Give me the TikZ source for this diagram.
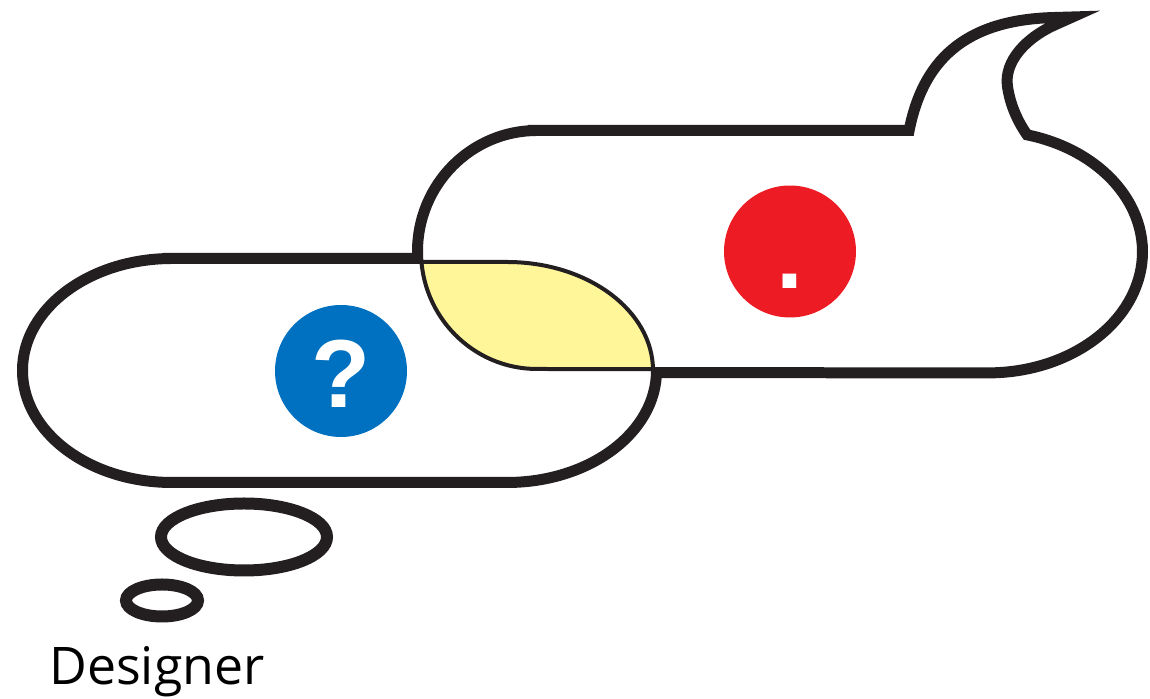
\documentclass[tikz,border=0pt]{standalone}
\usepackage{fontspec}
\setsansfont{Liberation Sans}
\newfontfamily\labelfont{Open Sans}

\definecolor{outline}{RGB}{35,31,32}
\definecolor{overlap}{RGB}{255,246,153}
\definecolor{askblue}{RGB}{0,112,192}
\definecolor{tellred}{RGB}{237,28,36}

% bubble outlines (centre of the thin inner line)
\newcommand{\designerpill}{(172,437) -- (507,437)
  arc[start angle=90, end angle=-90, x radius=146, y radius=108.5]
  -- (172,220) arc[start angle=270, end angle=90, x radius=146, y radius=108.5] -- cycle}
\newcommand{\userpill}{(537,565) -- (912,565)
  .. controls (925,635) and (965,676) .. (1055,678)
  .. controls (1025,665) and (1000,640) .. (1004,612)
  .. controls (1007,592) and (1015,575) .. (1025,561)
  arc[start angle=75.8, end angle=-90, x radius=151, y radius=117.5]
  -- (537,330) arc[start angle=270, end angle=90, x radius=116, y radius=117.5] -- cycle}

\begin{document}
\begin{tikzpicture}[
    x=0.02cm, y=0.02cm,
    rim/.style={draw=outline, line width=0.36cm, miter limit=6},
    seam/.style={draw=outline, line width=0.08cm},
    bubble/.style={draw=outline, line width=0.24cm},
    badge/.style={circle, minimum size=2.64cm, inner sep=0pt, text=white,
        text height=1.48cm, text depth=0pt,
        font=\sffamily\bfseries\fontsize{55}{55}\selectfont}
]
\useasboundingbox (0,0) rectangle (1150,699);

% thick rims first, white bodies on top of them
\path[rim] \designerpill;
\path[rim] \userpill;
\fill[white] \designerpill;
\fill[white] \userpill;

% where the two bubbles overlap
\begin{scope}
  \clip \designerpill;
  \fill[overlap] \userpill;
\end{scope}

% thin lines inside
\path[seam] \designerpill;
\path[seam] \userpill;

% thought bubbles
\draw[bubble] (244,162) ellipse[x radius=83, y radius=33.5];
\draw[bubble] (162,98.5) ellipse[x radius=36, y radius=16];

\node[badge, fill=askblue] (ask) at (341,328) {?};
\node[badge, fill=tellred] (tell) at (790,447.5) {.};

\node[font=\labelfont\fontsize{29.5}{29.5}\selectfont, anchor=base west, inner sep=0pt]
  (designer) at (49,14) {Designer};

\end{tikzpicture}
\end{document}
